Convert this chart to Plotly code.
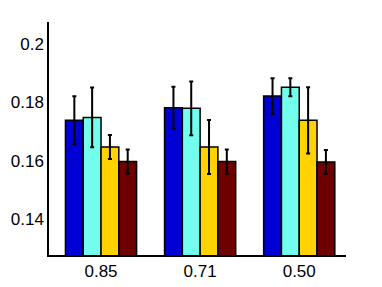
import plotly.graph_objects as go

categories = ["0.85", "0.71", "0.50"]
series_names = ["A", "B", "C", "D"]
series_colors = ["#0000d4", "#72fdec", "#ffd200", "#6e0000"]

blue_vals = [0.1738, 0.1781, 0.1821]
cyan_vals = [0.1748, 0.1779, 0.1851]
gold_vals = [0.1647, 0.1647, 0.1738]
red_vals = [0.1597, 0.1597, 0.1596]

blue_err = [0.0082, 0.0072, 0.0061]
cyan_err = [0.0102, 0.0092, 0.0031]
gold_err = [0.0041, 0.0092, 0.0113]
red_err = [0.0041, 0.0041, 0.0041]

y_ticks = [0.14, 0.16, 0.18, 0.2]
y_ticklabels = ["0.14", "0.16", "0.18", "0.2"]

values = [blue_vals, cyan_vals, gold_vals, red_vals]
errors = [blue_err, cyan_err, gold_err, red_err]
xpos = [1, 2, 3]

fig = go.Figure()
for name, col, v, e in zip(series_names, series_colors, values, errors):
    fig.add_trace(go.Bar(
        x=xpos, y=v, name=name,
        marker=dict(color=col, line=dict(color="black", width=1.5)),
        error_y=dict(type="data", array=e, visible=True, color="black",
                     thickness=2, width=2),
    ))

# page body has an 8px default margin, so the figure is sized to fit inside it
fig.update_layout(
    width=374, height=279,
    margin=dict(l=41, r=36, t=14, b=32),
    paper_bgcolor="white", plot_bgcolor="white",
    barmode="group", bargap=0.282, bargroupgap=0,
    showlegend=False,
    font=dict(family="Liberation Sans, Arial, sans-serif", size=17, color="black"),
)
fig.update_xaxes(
    range=[0.475, 3.472], tickvals=xpos, ticktext=categories,
    showline=True, linecolor="black", linewidth=1.5,
    showgrid=False, zeroline=False, ticks="", ticklen=0,
    automargin=False,
)
fig.update_yaxes(
    range=[0.1278, 0.2074], tickvals=y_ticks, ticktext=y_ticklabels,
    showline=True, linecolor="black", linewidth=1.5,
    showgrid=False, zeroline=False, ticks="", ticklen=0,
    automargin=False,
)

fig.write_html("out.html")
